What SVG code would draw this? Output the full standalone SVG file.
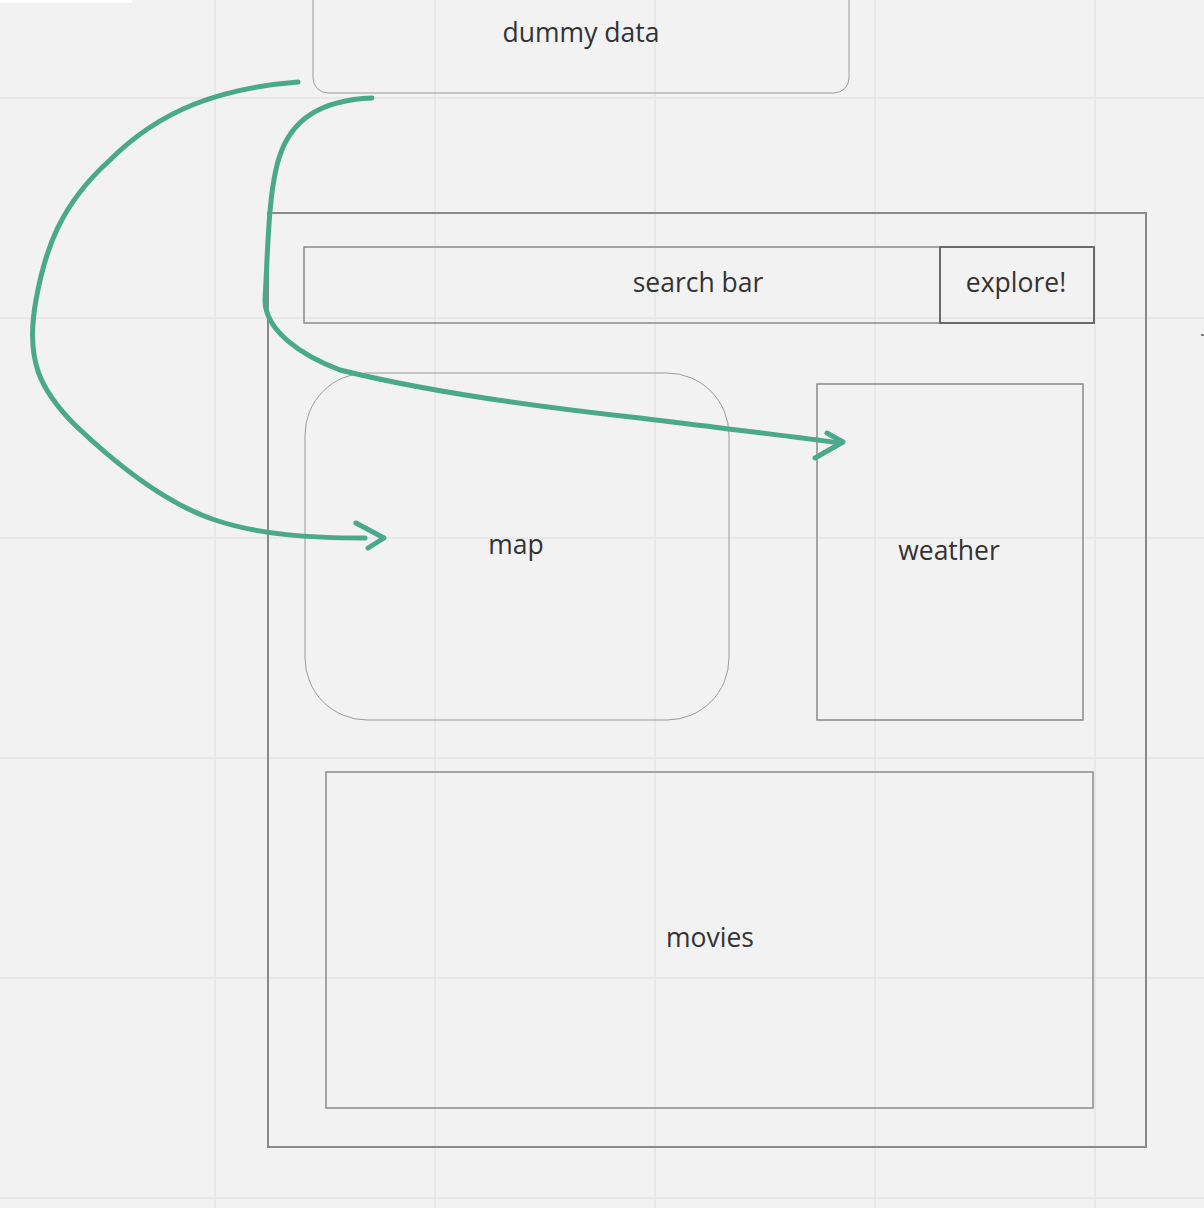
<svg xmlns="http://www.w3.org/2000/svg" width="1204" height="1208" viewBox="0 0 1204 1208">
<style>
.grid{stroke:#e5e5e5;stroke-width:1.5}
.box{fill:none;stroke:#8a8a8a;stroke-width:1.5}
.thin{fill:none;stroke:#9a9a9a;stroke-width:1}
.lbl{font-family:"Open Sans","Noto Sans",sans-serif;font-size:26.5px;fill:#333;text-anchor:middle}
.ink{fill:none;stroke:#4aa98a;stroke-width:5;stroke-linecap:round;stroke-linejoin:round}
</style>
<rect width="1204" height="1208" fill="#f2f2f2"/>
<g id="grid">
<line class="grid" x1="215" y1="0" x2="215" y2="1208"/>
<line class="grid" x1="435" y1="0" x2="435" y2="1208"/>
<line class="grid" x1="655" y1="0" x2="655" y2="1208"/>
<line class="grid" x1="875" y1="0" x2="875" y2="1208"/>
<line class="grid" x1="1095" y1="0" x2="1095" y2="1208"/>
<line class="grid" x1="0" y1="98" x2="1204" y2="98"/>
<line class="grid" x1="0" y1="318" x2="1204" y2="318"/>
<line class="grid" x1="0" y1="538" x2="1204" y2="538"/>
<line class="grid" x1="0" y1="758" x2="1204" y2="758"/>
<line class="grid" x1="0" y1="978" x2="1204" y2="978"/>
<line class="grid" x1="0" y1="1198" x2="1204" y2="1198"/>
</g>
<rect x="-10" y="-10" width="143" height="13" rx="4" fill="#ffffff"/>
<line x1="1201" y1="335" x2="1204" y2="335" stroke="#555" stroke-width="1.5"/>
<g id="dummy-data">
<rect class="thin" x="313" y="-20" width="536" height="113" rx="15"/>
<text class="lbl" x="581" y="42">dummy data</text>
</g>
<g id="frame">
<rect x="268" y="213" width="878" height="934" fill="none" stroke="#8a8a8a" stroke-width="2"/>
</g>
<g id="search-bar">
<rect class="box" x="304" y="247" width="636" height="76"/>
<text class="lbl" x="698" y="292">search bar</text>
</g>
<g id="explore">
<rect x="940" y="247" width="154" height="76" fill="none" stroke="#6a6a6a" stroke-width="2"/>
<text class="lbl" x="1016" y="292">explore!</text>
</g>
<g id="map">
<rect class="thin" x="305" y="373" width="424" height="347" rx="62"/>
<text class="lbl" x="516" y="554">map</text>
</g>
<g id="weather">
<rect class="box" x="817" y="384" width="266" height="336"/>
<text class="lbl" x="949" y="560">weather</text>
</g>
<g id="movies">
<rect class="box" x="326" y="772" width="767" height="336"/>
<text class="lbl" x="710" y="947">movies</text>
</g>
<g id="connectors">
<path class="ink" d="M298,82 C220,88 160,110 110,160 C60,205 45,250 36,300 C25,360 40,390 75,425 C120,468 170,505 215,520 C260,535 310,538 365,538"/>
<path class="ink" d="M356,523 L384,538 L368,548"/>
<path class="ink" d="M372,98 C320,100 292,120 280,155 C268,190 268,250 265,300 C265,330 300,355 340,370 C420,390 520,405 640,418 C720,428 790,436 840,443"/>
<path class="ink" d="M827,433 L843,442 L815,458"/>
</g>
</svg>
